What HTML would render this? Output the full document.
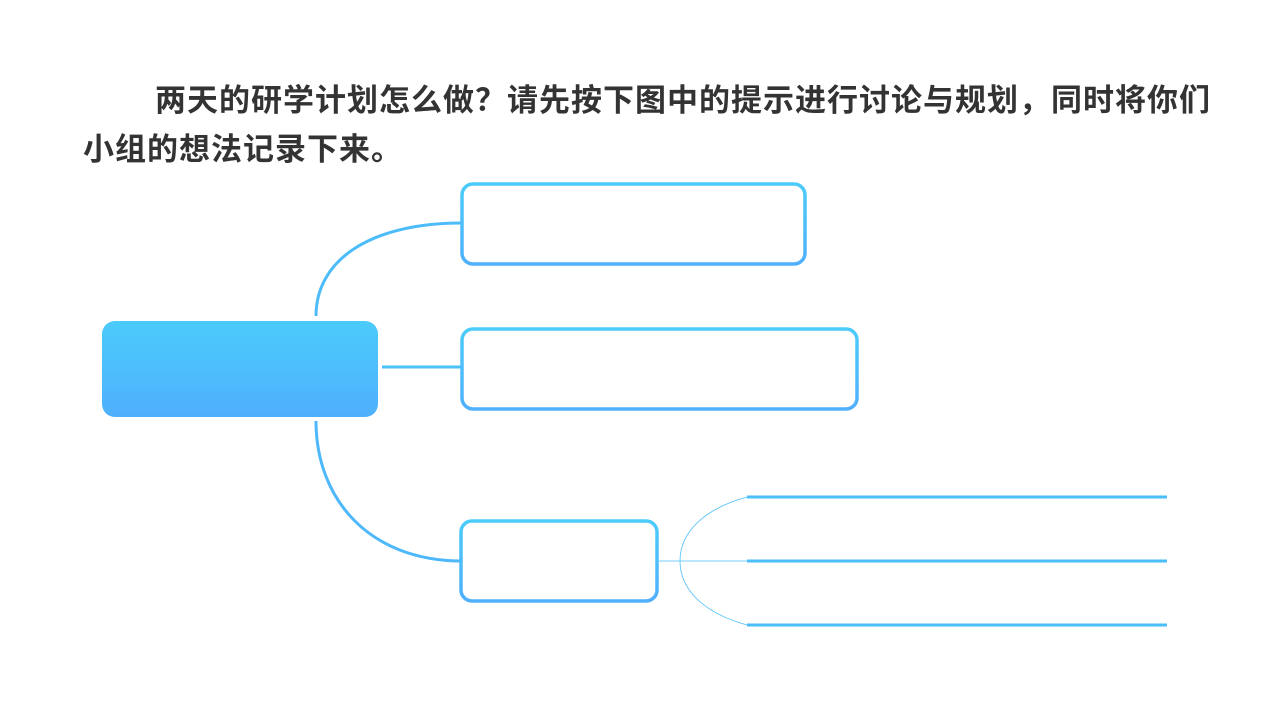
<!DOCTYPE html>
<html><head><meta charset="utf-8"><style>
html,body{margin:0;padding:0;background:#fff;width:1280px;height:720px;overflow:hidden}
.t{position:absolute;font-family:"Liberation Sans","Noto Sans CJK SC",sans-serif;font-weight:bold;font-size:31px;letter-spacing:1px;color:#333;white-space:nowrap;line-height:40px}
</style></head><body>
<div class="t" style="left:155px;top:81px">两天的研学计划怎么做？请先按下图中的提示进行讨论与规划，同时将你们</div>
<div class="t" style="left:83px;top:130px">小组的想法记录下来。</div>
<svg width="1280" height="720" style="position:absolute;left:0;top:0">
<defs>
<linearGradient id="g" x1="0" y1="0" x2="0" y2="1"><stop offset="0" stop-color="#4bcbfa"/><stop offset="1" stop-color="#4fb0fd"/></linearGradient>
<linearGradient id="gs" x1="0" y1="0" x2="0" y2="1" gradientUnits="objectBoundingBox"><stop offset="0" stop-color="#4bcbfa"/><stop offset="1" stop-color="#4fb0fd"/></linearGradient>
</defs>
<rect x="102" y="321" width="276" height="96" rx="13" fill="url(#g)"/>
<g fill="none" stroke-width="3">
<path d="M316 316 C316 260 370 223 462 223" stroke="#4dbcfb"/>
<line x1="382" y1="367" x2="462" y2="367" stroke="#4bc0f9"/>
<path d="M316 421 C316 500 370 561 462 561" stroke="#4db8fb"/>
</g>
<g fill="none" stroke-width="3.5">
<rect x="462" y="184" width="343" height="80" rx="11" stroke="url(#gs)"/>
<rect x="462" y="329" width="395" height="80" rx="11" stroke="url(#gs)"/>
<rect x="461" y="521" width="196" height="80" rx="11" stroke="url(#gs)"/>
</g>
<g fill="none" stroke-width="3">
<line x1="747" y1="497" x2="1167" y2="497" stroke="#4bbdf9"/>
<line x1="747" y1="561" x2="1167" y2="561" stroke="#4bbdf9"/>
<line x1="747" y1="625" x2="1167" y2="625" stroke="#4bbdf9"/>
</g>
<g fill="none" stroke="#4bbdf9" stroke-width="0.8">
<line x1="659" y1="561" x2="747" y2="561"/>
<path d="M747 497 C700 510 680 535 680 561 C680 587 700 612 747 625"/>
</g>
</svg>
</body></html>
